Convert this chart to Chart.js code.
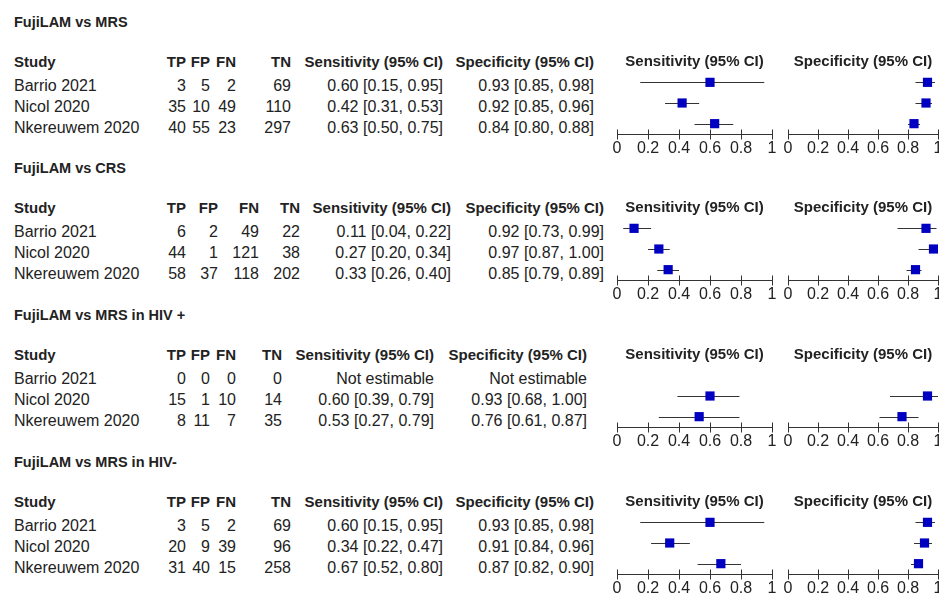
<!DOCTYPE html>
<html>
<head>
<meta charset="utf-8">
<script src="https://cdn.jsdelivr.net/npm/chart.js@4"></script>
<style>
  html, body { margin: 0; padding: 0; background: #fff; }
  body { width: 939px; height: 593px; position: relative; overflow: hidden; font-family: "Liberation Sans", Arial, sans-serif; color: #222; }
  .t { position: absolute; white-space: nowrap; line-height: 20px; font-size: 16px; }
  .b { font-weight: bold; font-size: 15px; }
  .h { font-weight: bold; font-size: 14.5px; }
  canvas { position: absolute; }
</style>
</head>
<body>
<script>
// Data
const panelTitles = ['FujiLAM vs MRS', 'FujiLAM vs CRS', 'FujiLAM vs MRS in HIV +', 'FujiLAM vs MRS in HIV-'];
const studies = ['Barrio 2021', 'Nicol 2020', 'Nkereuwem 2020'];
const tp = [[3, 35, 40], [6, 44, 58], [0, 15, 8], [3, 20, 31]];
const fp = [[5, 10, 55], [2, 1, 37], [0, 1, 11], [5, 9, 40]];
const fn = [[2, 49, 23], [49, 121, 118], [0, 10, 7], [2, 39, 15]];
const tn = [[69, 110, 297], [22, 38, 202], [0, 14, 35], [69, 96, 258]];
const sens   = [[0.60, 0.42, 0.63], [0.11, 0.27, 0.33], [null, 0.60, 0.53], [0.60, 0.34, 0.67]];
const sensLo = [[0.15, 0.31, 0.50], [0.04, 0.20, 0.26], [null, 0.39, 0.27], [0.15, 0.22, 0.52]];
const sensHi = [[0.95, 0.53, 0.75], [0.22, 0.34, 0.40], [null, 0.79, 0.79], [0.95, 0.47, 0.80]];
const spec   = [[0.93, 0.92, 0.84], [0.92, 0.97, 0.85], [null, 0.93, 0.76], [0.93, 0.91, 0.87]];
const specLo = [[0.85, 0.85, 0.80], [0.73, 0.87, 0.79], [null, 0.68, 0.61], [0.85, 0.84, 0.82]];
const specHi = [[0.98, 0.96, 0.88], [0.99, 1.00, 0.89], [null, 1.00, 0.87], [0.98, 0.96, 0.90]];
const xTicks = [0, 0.2, 0.4, 0.6, 0.8, 1];

// Layout
const PANEL_TOP = [0, 146, 293, 440];
const COLS = [
    [186, 210, 236, 291, 443, 594],
    [186, 218, 259, 300, 451, 604],
    [186, 210, 236, 282, 434, 587],
    [186, 210, 236, 291, 443, 594]
];
const TITLE_Y = 22, HEAD_Y = 62, ROW_Y = [86, 107, 128];
const SENS_X = [617, 772], SPEC_X = [788, 938];
const PAD = 12, CANVAS_TOP = 53, CANVAS_H = 120, AXIS_H = 39;
const MARK = '#0000C0', INK = '#222';

function addText(txt, x, y, cls, right) {
    const d = document.createElement('div');
    d.className = 't' + (cls ? ' ' + cls : '');
    d.textContent = txt;
    d.style.top = (y - 10) + 'px';
    if (right) { d.style.left = (x - 300) + 'px'; d.style.width = '300px'; d.style.textAlign = 'right'; }
    else d.style.left = x + 'px';
    document.body.appendChild(d);
}

function ci(v, lo, hi) {
    if (v === null) return 'Not estimable';
    return v.toFixed(2) + ' [' + lo.toFixed(2) + ', ' + hi.toFixed(2) + ']';
}

// error bars drawn from the scales
const ciLines = {
    id: 'ciLines',
    beforeDatasetsDraw(chart) {
        const { ctx, scales: { x, y } } = chart;
        const pts = chart.data.datasets[0].data;
        ctx.save();
        ctx.strokeStyle = '#333';
        ctx.lineWidth = 1;
        pts.forEach(p => {
            const py = Math.round(y.getPixelForValue(p.y)) + 0.5;
            ctx.beginPath();
            ctx.moveTo(x.getPixelForValue(p.lo), py);
            ctx.lineTo(x.getPixelForValue(p.hi), py);
            ctx.stroke();
        });
        ctx.restore();
    }
};

// tick marks crossing the axis line
const crossTicks = {
    id: 'crossTicks',
    afterDraw(chart) {
        const { ctx, scales: { x } } = chart;
        const ay = Math.round(chart.chartArea.bottom) + 0.5;
        ctx.save();
        ctx.strokeStyle = '#333';
        ctx.lineWidth = 1;
        x.ticks.forEach(t => {
            const px = Math.round(x.getPixelForValue(t.value)) + 0.5;
            ctx.beginPath();
            ctx.moveTo(px, ay - 5);
            ctx.lineTo(px, ay + 5);
            ctx.stroke();
        });
        ctx.restore();
    }
};

function forest(top, span, title, vals, los, his) {
    const c = document.createElement('canvas');
    const w = span[1] - span[0] + PAD * 2;
    c.width = w; c.height = CANVAS_H;
    c.style.left = (span[0] - PAD) + 'px';
    c.style.top = (top + CANVAS_TOP) + 'px';
    c.style.width = w + 'px'; c.style.height = CANVAS_H + 'px';
    document.body.appendChild(c);
    const data = [];
    vals.forEach((v, i) => { if (v !== null) data.push({ x: v, y: i + 1, lo: los[i], hi: his[i] }); });
    new Chart(c, {
        type: 'scatter',
        data: { datasets: [{ data, pointStyle: 'rect', pointRadius: 6.5, pointHoverRadius: 6.5,
            backgroundColor: MARK, borderColor: MARK, borderWidth: 0 }] },
        options: {
            responsive: false, animation: false, devicePixelRatio: 1,
            layout: { padding: { left: PAD, right: PAD, top: 0, bottom: 0 } },
            plugins: {
                legend: { display: false }, tooltip: { enabled: false },
                title: { display: true, text: title, color: INK, padding: { top: 0, bottom: 1 },
                    font: { family: 'Liberation Sans', size: 15, weight: 'bold', lineHeight: 1.2 } }
            },
            scales: {
                x: {
                    type: 'linear', min: 0, max: 1,
                    afterBuildTicks: s => { s.ticks = xTicks.map(v => ({ value: v })); },
                    afterFit: s => { s.paddingLeft = 0; s.paddingRight = 0; s.height = AXIS_H; },
                    grid: { display: false, drawTicks: false, tickLength: 0 },
                    border: { display: true, color: '#333', width: 1 },
                    ticks: { color: INK, padding: 5, maxRotation: 0, autoSkip: false,
                        font: { family: '"Liberation Sans Narrow", "Liberation Sans"', size: 16 },
                        callback: v => String(+v.toFixed(1)) }
                },
                y: { type: 'linear', display: false, reverse: true, min: 0.5, max: 3.5 }
            }
        },
        plugins: [ciLines, crossTicks]
    });
}

PANEL_TOP.forEach((top, p) => {
    const cols = COLS[p];
    addText(panelTitles[p], 14, top + TITLE_Y, 'h', false);
    addText('Study', 14, top + HEAD_Y, 'b', false);
    ['TP', 'FP', 'FN', 'TN', 'Sensitivity (95% CI)', 'Specificity (95% CI)']
        .forEach((hd, k) => addText(hd, cols[k], top + HEAD_Y, 'b', true));
    studies.forEach((s, i) => {
        const y = top + ROW_Y[i];
        addText(s, 14, y, '', false);
        [tp[p][i], fp[p][i], fn[p][i], tn[p][i]].forEach((v, k) => addText(String(v), cols[k], y, '', true));
        addText(ci(sens[p][i], sensLo[p][i], sensHi[p][i]), cols[4], y, '', true);
        addText(ci(spec[p][i], specLo[p][i], specHi[p][i]), cols[5], y, '', true);
    });
    forest(top, SENS_X, 'Sensitivity (95% CI)', sens[p], sensLo[p], sensHi[p]);
    forest(top, SPEC_X, 'Specificity (95% CI)', spec[p], specLo[p], specHi[p]);
});
</script>
</body>
</html>
